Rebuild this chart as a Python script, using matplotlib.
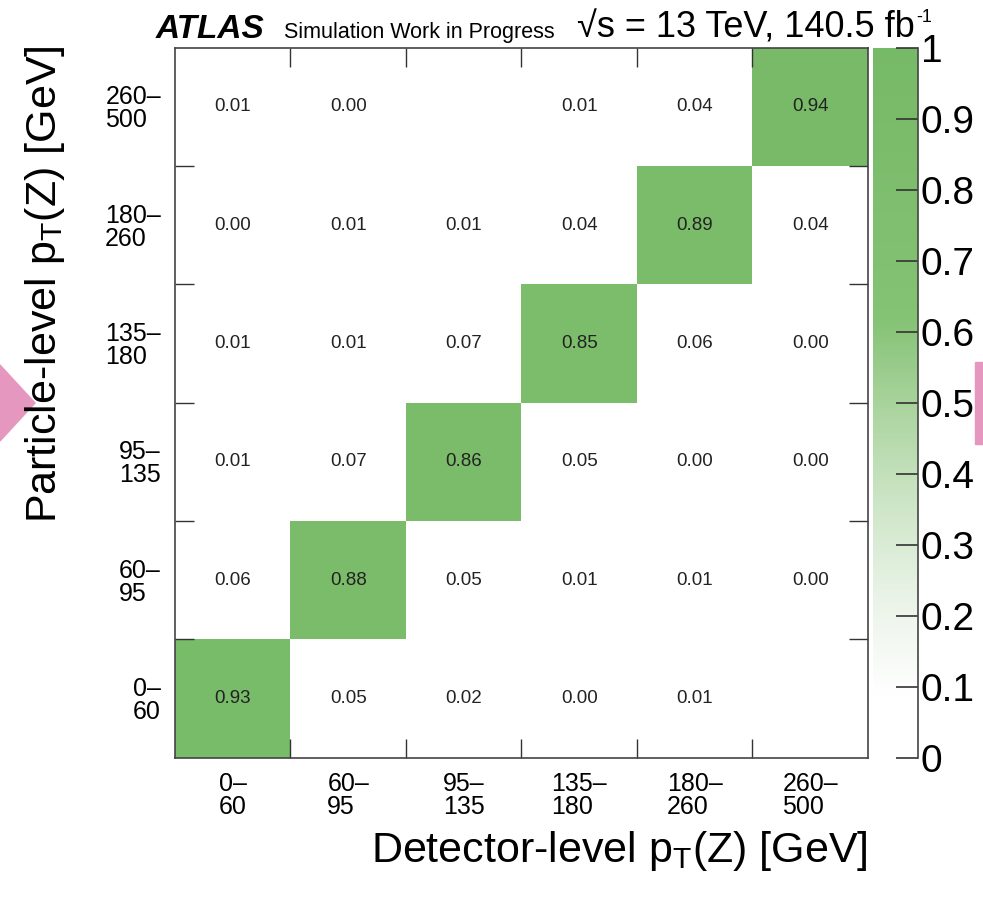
import numpy as np
import matplotlib
matplotlib.use("Agg")
from matplotlib import pyplot as plt
from matplotlib.colors import LinearSegmentedColormap
from matplotlib.patches import Polygon, Rectangle

plt.rcParams['font.family'] = ['Liberation Sans', 'DejaVu Sans']
plt.rcParams['mathtext.fontset'] = 'custom'
plt.rcParams['mathtext.rm'] = 'Liberation Sans'
plt.rcParams['mathtext.it'] = 'Liberation Sans:italic'

# bins of pT(Z) in GeV
bin_labels = ["0\u2013\n60", "60\u2013\n95", "95\u2013\n135",
              "135\u2013\n180", "180\u2013\n260", "260\u2013\n500"]

# migration fractions, rows = particle level (bottom to top), cols = detector level
row_0_60 = [0.93, 0.05, 0.02, 0.00, 0.01, np.nan]
row_60_95 = [0.06, 0.88, 0.05, 0.01, 0.01, 0.00]
row_95_135 = [0.01, 0.07, 0.86, 0.05, 0.00, 0.00]
row_135_180 = [0.01, 0.01, 0.07, 0.85, 0.06, 0.00]
row_180_260 = [0.00, 0.01, 0.01, 0.04, 0.89, 0.04]
row_260_500 = [0.01, 0.00, np.nan, 0.01, 0.04, 0.94]

matrix = np.array([row_0_60, row_60_95, row_95_135,
                   row_135_180, row_180_260, row_260_500])

cmap = LinearSegmentedColormap.from_list("wg", [
    (0.0, "#ffffff"), (0.08, "#ffffff"), (0.2, "#eef5ec"),
    (0.35, "#cfe6c9"), (0.5, "#a8d39c"), (0.62, "#84c274"),
    (1.0, "#76b966")])
cmap.set_bad("white")

fig = plt.figure(figsize=(9.83, 9.0), dpi=100)
ax = fig.add_axes([0.178, 0.158, 0.705, 0.789])
cax = fig.add_axes([0.888, 0.158, 0.046, 0.789])

n = len(bin_labels)
edges = np.arange(n + 1)
mesh = ax.pcolormesh(edges, edges, np.ma.masked_invalid(matrix),
                     cmap=cmap, vmin=0, vmax=1)

for i in range(n):
    for j in range(n):
        v = matrix[i, j]
        if np.isnan(v):
            continue
        ax.text(j + 0.5, i + 0.5, "{:.2f}".format(v), ha='center', va='center',
                fontsize=13.5, color='#222222')

ax.set_xlim(0, n)
ax.set_ylim(0, n)
centers = np.arange(n) + 0.5
ax.set_xticks(centers)
ax.set_yticks(centers)
ax.set_xticklabels(bin_labels, fontsize=18, linespacing=0.95)
ax.set_yticklabels(bin_labels, fontsize=18, linespacing=0.95)
for t in ax.get_xticklabels() + ax.get_yticklabels():
    t.set_multialignment('left')
ax.tick_params(which='major', length=0, pad=10)
ax.set_xticks(edges[1:-1], minor=True)
ax.set_yticks(edges[1:-1], minor=True)
ax.tick_params(which='minor', direction='in', length=14, width=1.0,
               top=True, right=True, color='#333333')
for s in ax.spines.values():
    s.set_color('#444444')
    s.set_linewidth(1.2)

cb = fig.colorbar(mesh, cax=cax)
cb.outline.set_visible(False)
cax.spines['right'].set_visible(True)
cax.spines['right'].set_color('#444444')
cax.spines['right'].set_linewidth(1.2)
cb.set_ticks(np.round(np.arange(0, 1.01, 0.1), 1))
cb.set_ticklabels(["0", "0.1", "0.2", "0.3", "0.4", "0.5", "0.6", "0.7", "0.8", "0.9", "1"])
cax.tick_params(direction='in', length=16, width=1.2, labelsize=28, pad=2, color='#333333')

fig.text(0.158, 0.958, "ATLAS", fontsize=24, fontweight='bold', fontstyle='italic')
fig.text(0.289, 0.958, "Simulation Work in Progress", fontsize=15.5)
lumi = fig.text(0.587, 0.958, "\u221as = 13 TeV, 140.5 fb", fontsize=26)
fig.canvas.draw()
bb = lumi.get_window_extent().transformed(fig.transFigure.inverted())
fig.text(bb.x1 + 0.002, 0.975, "-1", fontsize=13)

fig.text(0.883, 0.042, r"Detector-level p$_{\mathregular{T}}$(Z) [GeV]",
         fontsize=31, ha='right', va='baseline')
fig.text(0.046, 0.95, r"Particle-level p$_{\mathregular{T}}$(Z) [GeV]",
         fontsize=31, rotation=90, ha='center', va='top')

# pink slide markers cut by the frame
fig.patches.append(Polygon([(0, 1 - 365 / 900), (35 / 983, 1 - 403 / 900), (0, 1 - 441 / 900)],
                           closed=True, transform=fig.transFigure, color='#e597bf'))
fig.patches.append(Rectangle((975 / 983, 1 - 444 / 900), 8 / 983, 82 / 900,
                             transform=fig.transFigure, color='#e597bf'))

fig.savefig("out.png", dpi=100)
